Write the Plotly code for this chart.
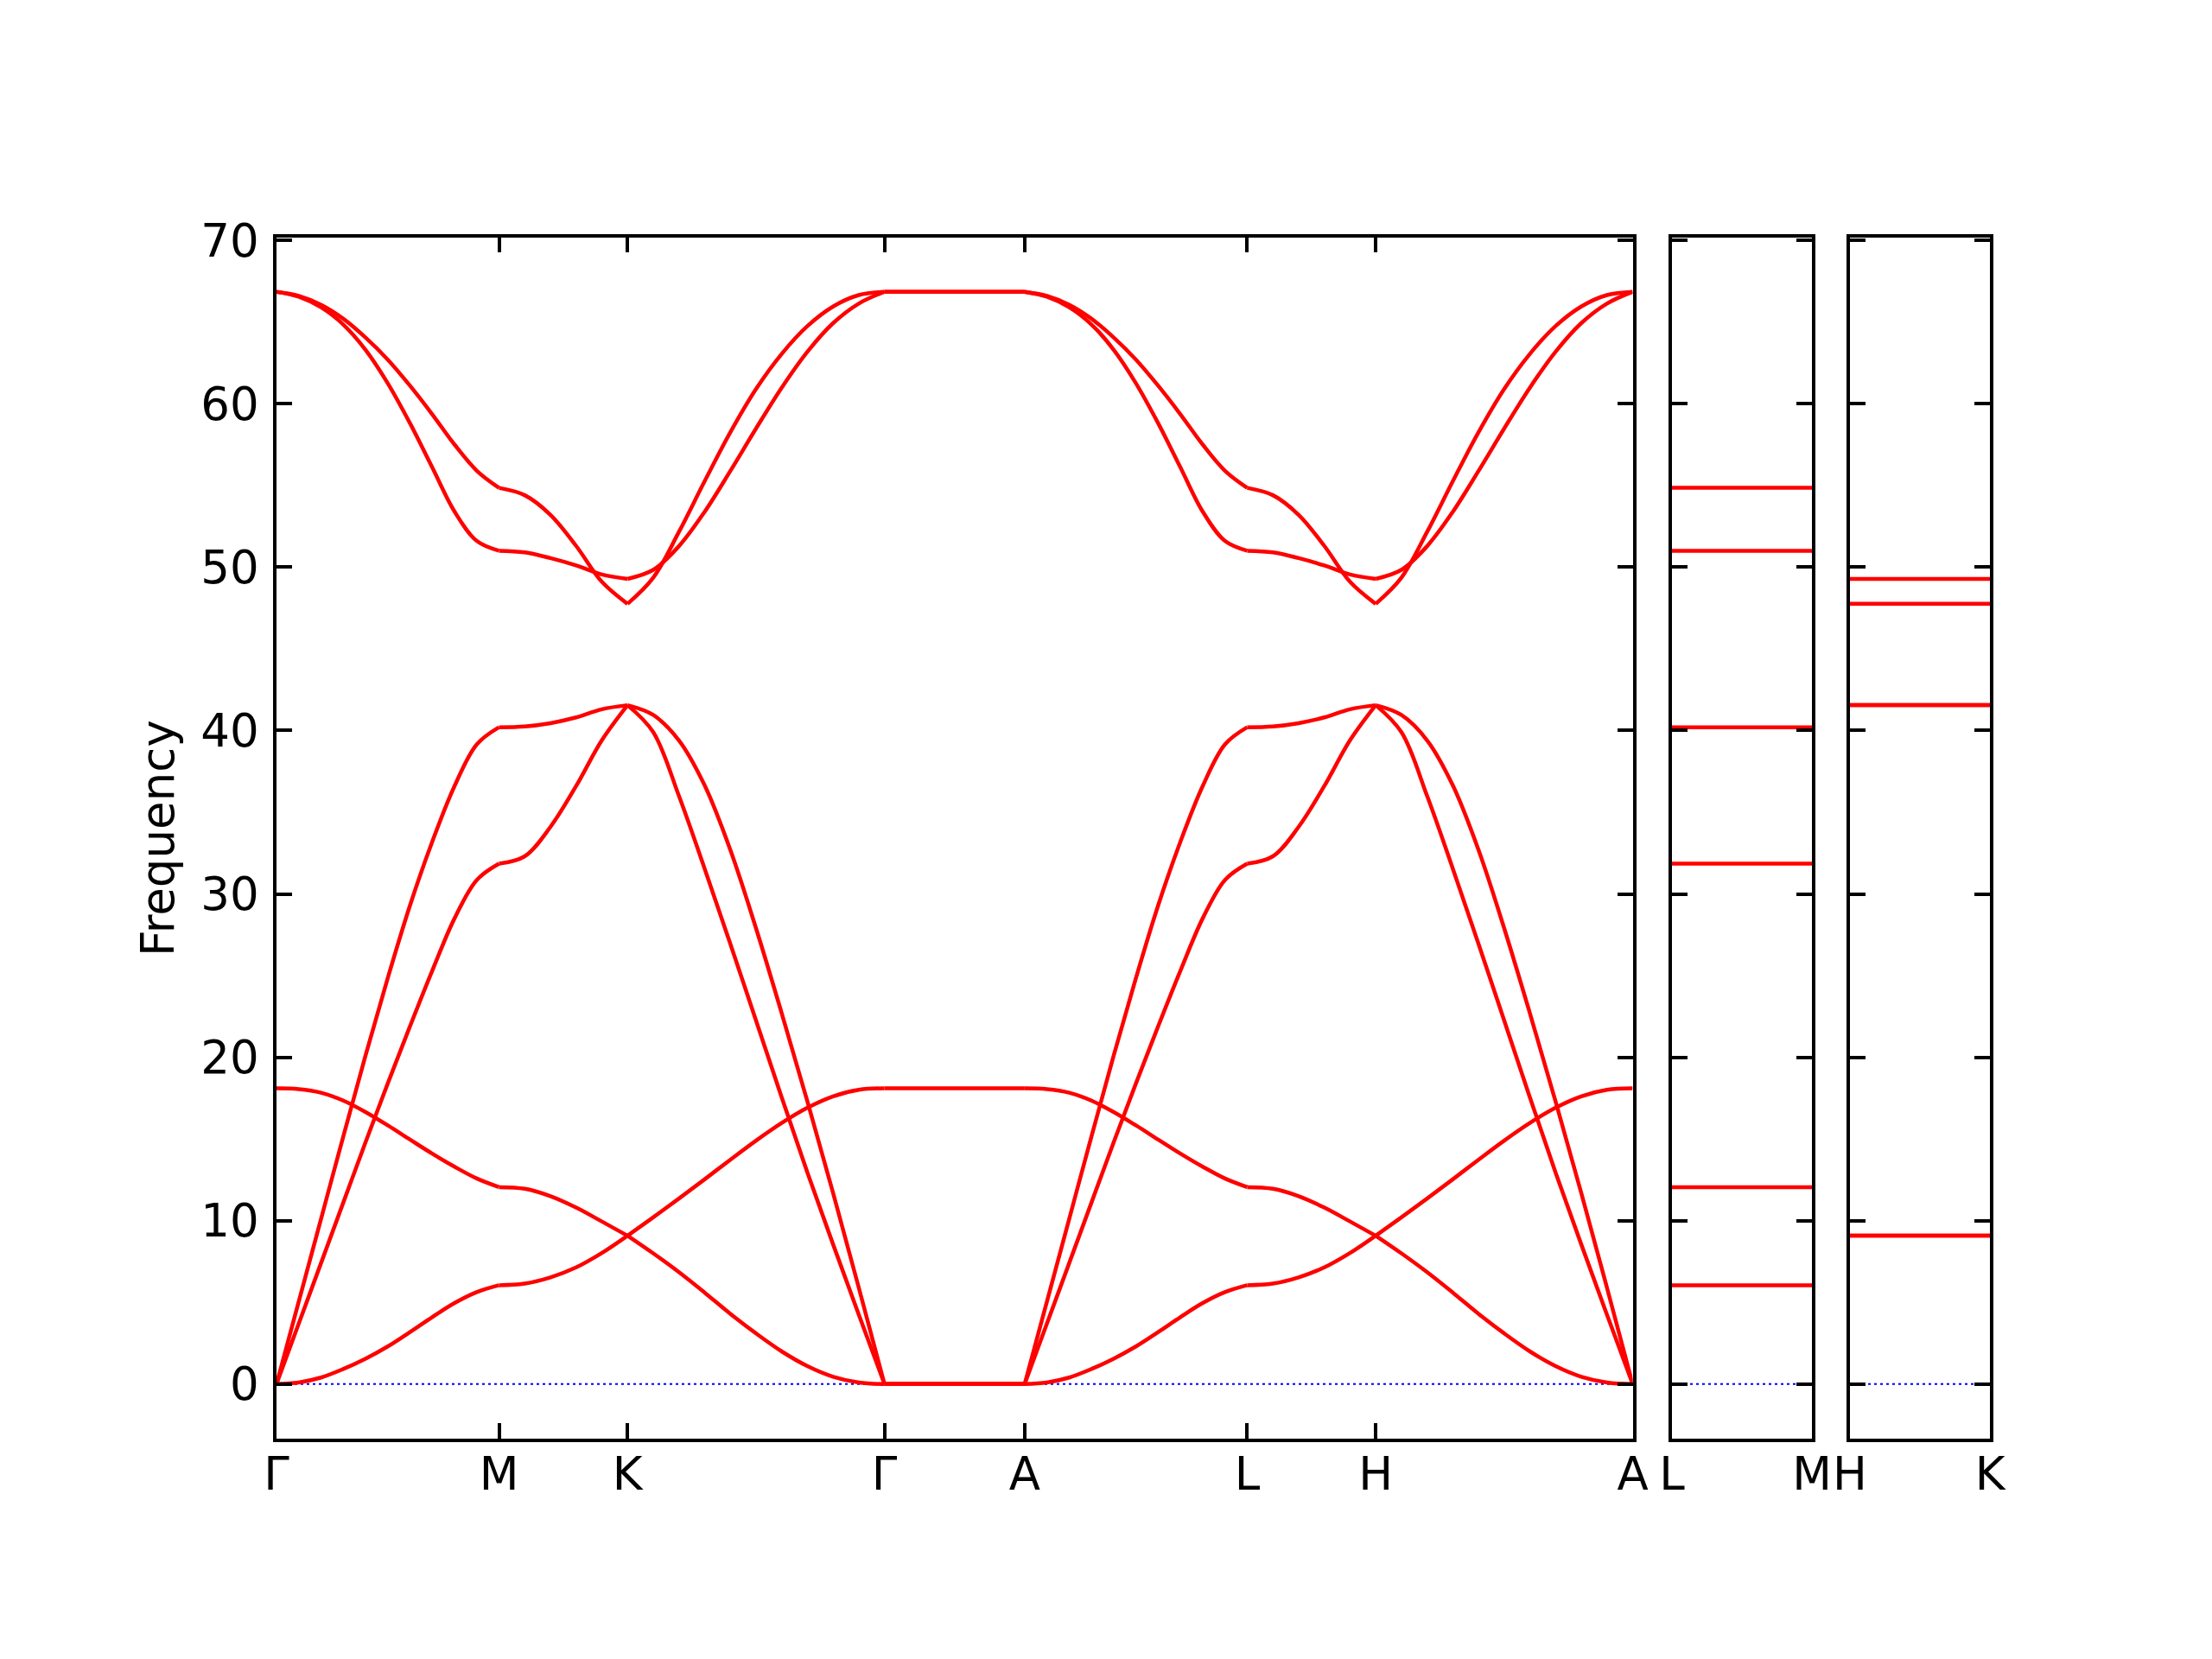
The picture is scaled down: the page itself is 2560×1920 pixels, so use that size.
import plotly.graph_objects as go

# ---------------- data ----------------
# high-symmetry path (main panel) and relative segment lengths
path_labels = ["Γ", "M", "K", "Γ", "A", "L", "H", "A"]
seg_lengths = [1.0, 0.57735, 1.1547, 0.63, 1.0, 0.57735, 1.1547]
lm_labels = ["L", "M"]
hk_labels = ["H", "K"]
side_length = 0.63

# Γ–M segment (fractional position along segment)
u_gm = [0.0, 0.1, 0.2, 0.3, 0.4, 0.5, 0.6, 0.7, 0.8, 0.9, 1.0]
gm_b1 = [0.0, 0.1, 0.4, 0.92, 1.55, 2.3, 3.18, 4.1, 4.96, 5.63, 6.05]
gm_b2 = [0.0, 3.7, 7.4, 11.1, 14.8, 18.4, 21.9, 25.3, 28.5, 30.85, 31.85]
gm_b3 = [0.0, 5.05, 10.1, 15.15, 20.1, 24.85, 29.3, 33.2, 36.6, 39.15, 40.2]
gm_b4 = [18.1, 18.05, 17.83, 17.35, 16.65, 15.83, 14.96, 14.1, 13.3, 12.58, 12.05]
gm_b5 = [66.85, 66.55, 65.9, 64.85, 63.3, 61.25, 58.8, 56.1, 53.4, 51.6, 51.0]
gm_b6 = [66.85, 66.6, 66.05, 65.2, 64.05, 62.7, 61.1, 59.35, 57.5, 55.9, 54.85]

# M–K segment
u_mk = [0.0, 0.2, 0.4, 0.6, 0.8, 1.0]
mk_b1 = [6.05, 6.15, 6.53, 7.14, 8.02, 9.08]
mk_b2 = [12.05, 11.95, 11.5, 10.8, 9.95, 9.08]
mk_b3 = [31.85, 32.3, 34.1, 36.6, 39.4, 41.55]
mk_b4 = [40.2, 40.25, 40.45, 40.8, 41.3, 41.55]
mk_b5 = [51.0, 50.9, 50.55, 50.1, 49.55, 49.28]
mk_b6 = [54.85, 54.4, 53.2, 51.3, 49.1, 47.75]

# K–Γ segment
u_kg = [0.0, 0.1, 0.2, 0.3, 0.4, 0.5, 0.6, 0.7, 0.8, 0.9, 1.0]
kg_b1 = [9.08, 8.0, 6.85, 5.6, 4.3, 3.1, 2.0, 1.1, 0.45, 0.1, 0.0]
kg_b2 = [9.08, 10.2, 11.35, 12.53, 13.73, 14.9, 15.98, 16.91, 17.61, 18.01, 18.1]
kg_b3 = [41.55, 39.9, 36.0, 31.55, 26.95, 22.25, 17.55, 12.95, 8.55, 4.25, 0.0]
kg_b4 = [41.55, 40.95, 39.4, 36.65, 32.7, 27.9, 22.7, 17.3, 11.7, 5.9, 0.0]
kg_b5 = [49.28, 49.83, 51.28, 53.38, 55.88, 58.48, 60.98, 63.18, 64.93, 66.13, 66.85]
kg_b6 = [47.75, 49.35, 52.15, 55.25, 58.25, 60.9, 63.05, 64.75, 65.95, 66.65, 66.85]

# Γ–A segment (dispersionless)
u_ga = [0.0, 1.0]
ga_levels = [0.0, 0.0, 0.0, 18.1, 66.85, 66.85]

# side panels (dispersionless paths)
lm_levels = [6.05, 12.05, 31.85, 40.2, 51.0, 54.85]
hk_levels = [9.08, 9.08, 41.55, 41.55, 47.75, 49.28]

y_ticks = [0, 10, 20, 30, 40, 50, 60, 70]
y_range = [-3.3425, 70.1925]

# ---------------- build figure ----------------
gm = [gm_b1, gm_b2, gm_b3, gm_b4, gm_b5, gm_b6]
mk = [mk_b1, mk_b2, mk_b3, mk_b4, mk_b5, mk_b6]
kg = [kg_b1, kg_b2, kg_b3, kg_b4, kg_b5, kg_b6]
ga = [[v, v] for v in ga_levels]

segments = [(u_gm, gm), (u_mk, mk), (u_kg, kg), (u_ga, ga),
            (u_gm, gm), (u_mk, mk), (u_kg, kg)]

tick_pos = [0.0]
for L in seg_lengths:
    tick_pos.append(tick_pos[-1] + L)
total = tick_pos[-1]

RED = "#ff0000"
fig = go.Figure()

# zero lines
for xa, ya, xmax in [("x", "y", total), ("x2", "y2", side_length), ("x3", "y3", side_length)]:
    fig.add_trace(go.Scatter(x=[0, xmax], y=[0, 0], mode="lines", xaxis=xa, yaxis=ya,
                             line=dict(color="blue", width=2, dash="3px,4px"),
                             hoverinfo="skip"))

for b in range(6):
    for si, (u, bands) in enumerate(segments):
        start, length = tick_pos[si], seg_lengths[si]
        xs = [start + f * length for f in u]
        fig.add_trace(go.Scatter(x=xs, y=list(bands[b]), mode="lines",
                                 line=dict(color=RED, width=4.5, shape="spline", smoothing=1.0),
                                 xaxis="x", yaxis="y"))

for levels, xa, ya in [(lm_levels, "x2", "y2"), (hk_levels, "x3", "y3")]:
    xs, ys = [], []
    for v in levels:
        xs += [0, side_length, None]
        ys += [v, v, None]
    fig.add_trace(go.Scatter(x=xs, y=ys, mode="lines", xaxis=xa, yaxis=ya,
                             line=dict(color=RED, width=4.5)))

axis_common = dict(showline=True, linecolor="black", linewidth=3.5, mirror="ticks",
                   ticks="inside", ticklen=18, tickwidth=3.5, tickcolor="black",
                   showgrid=False, zeroline=False, automargin=False,
                   tickfont=dict(family="DejaVu Sans", size=53, color="black"))

y_dom = [(1920 - 1665) / 1920, (1920 - 274.5) / 1920]

fig.update_layout(
    width=2560, height=1920,
    margin=dict(l=0, r=0, t=0, b=0, pad=0, autoexpand=False),
    paper_bgcolor="white", plot_bgcolor="white",
    showlegend=False,
    xaxis=dict(domain=[320 / 2560, 1889.5 / 2560], range=[0, total],
               tickvals=tick_pos, ticktext=path_labels, anchor="y",
               ticklabelstandoff=-8, **axis_common),
    yaxis=dict(domain=y_dom, range=y_range, tickvals=y_ticks, anchor="x",
               ticklabelstandoff=6, **axis_common),
    xaxis2=dict(domain=[1935 / 2560, 2097 / 2560], range=[0, side_length],
                tickvals=[0, side_length], ticktext=lm_labels, anchor="y2",
                ticklabelstandoff=-8, **axis_common),
    yaxis2=dict(domain=y_dom, range=y_range, tickvals=y_ticks, showticklabels=False,
                anchor="x2", **axis_common),
    xaxis3=dict(domain=[2141 / 2560, 2303 / 2560], range=[0, side_length],
                tickvals=[0, side_length], ticktext=hk_labels, anchor="y3",
                ticklabelstandoff=-8, **axis_common),
    yaxis3=dict(domain=y_dom, range=y_range, tickvals=y_ticks, showticklabels=False,
                anchor="x3", **axis_common),
    annotations=[dict(text="Frequency", textangle=-90, xref="paper", yref="paper",
                      x=183 / 2560, y=(1920 - 970) / 1920, xanchor="center", yanchor="middle",
                      showarrow=False, font=dict(family="DejaVu Sans", size=53, color="black"))],
)

fig.write_html("out.html", config={"displayModeBar": False},
               post_script="document.body.style.margin='0';")
